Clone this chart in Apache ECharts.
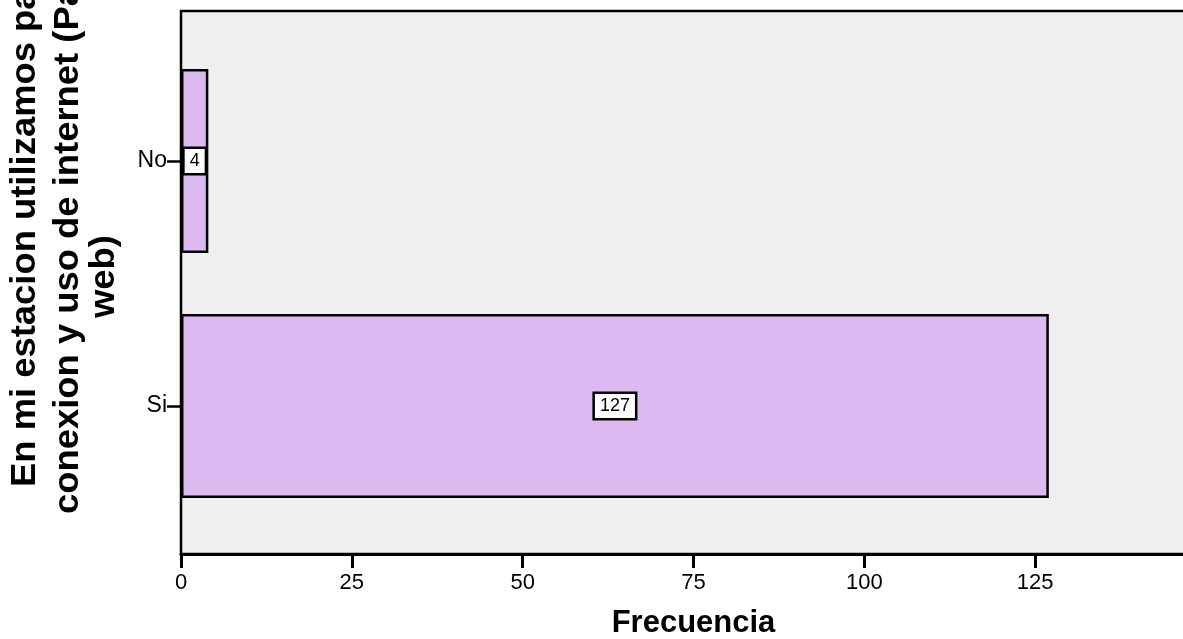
<!DOCTYPE html>
<html><head><meta charset="utf-8">
<script src="https://cdn.jsdelivr.net/npm/echarts@6/dist/echarts.min.js"></script>
<style>html,body{margin:0;padding:0;background:#fff}#c{width:1183px;height:639px}</style>
</head><body><div id="c"></div>
<script>
const categories = ['Si', 'No'];
const values = [127, 4];
const xMin = 0, xMax = 150, xStep = 25;
const xAxisTitle = 'Frecuencia';
const yTitleLines = ['En mi estacion utilizamos para la', 'conexion y uso de internet (Paginas', 'web)'];

const chart = echarts.init(document.getElementById('c'), null, {renderer: 'canvas'});
const FF = 'Liberation Sans, Arial, sans-serif';
const titleFont = {fontFamily: FF, fontWeight: 'bold', fontSize: 35, fill: '#000'};
const titlePos = [[25, 487], [68, 514], [104, 318]];
chart.setOption({
  animation: false,
  backgroundColor: '#fff',
  grid: [
    {left: 181, top: 11, width: 1025, bottom: 85, show: true, backgroundColor: '#efefef', borderColor: '#000', borderWidth: 2.5, containLabel: false, outerBoundsMode: 'none'},
    {left: 181, top: 38.5, width: 1025, bottom: 110.5, show: false, containLabel: false, outerBoundsMode: 'none'}
  ],
  xAxis: [
    {gridIndex: 0, type: 'value', min: xMin, max: xMax, interval: xStep,
     axisLine: {show: true, lineStyle: {color: '#000', width: 3}},
     axisTick: {show: true, inside: false, length: 14, lineStyle: {color: '#000', width: 3}},
     axisLabel: {color: '#000', fontSize: 22, fontFamily: FF, margin: 18},
     splitLine: {show: false},
     name: xAxisTitle, nameLocation: 'middle', nameGap: 54,
     nameTextStyle: {color: '#000', fontSize: 31, fontWeight: 'bold', fontFamily: FF}},
    {gridIndex: 1, type: 'value', min: xMin, max: xMax, show: false}
  ],
  yAxis: [
    {gridIndex: 0, type: 'value', show: false},
    {gridIndex: 1, type: 'category', data: categories,
     axisLine: {show: false},
     axisTick: {show: true, alignWithLabel: true, length: 14, lineStyle: {color: '#000', width: 2.5}},
     axisLabel: {color: '#000', fontSize: 23, fontFamily: FF, margin: 14}}
  ],
  series: [{
    type: 'bar', xAxisIndex: 1, yAxisIndex: 1, data: values, barWidth: 184,
    itemStyle: {color: '#ddb9f2', borderColor: '#000', borderWidth: 2.5},
    label: {show: true, position: 'inside', color: '#000', fontSize: 18, fontFamily: FF,
      backgroundColor: '#fff', borderColor: '#000', borderWidth: 2.5, padding: [3, 5]}
  }],
  graphic: yTitleLines.map((t, i) => ({
    type: 'text', x: titlePos[i][0], y: titlePos[i][1], rotation: Math.PI / 2, scaleX: 1.04,
    style: Object.assign({text: t, align: 'left', verticalAlign: 'middle'}, titleFont)
  }))
});
</script></body></html>
